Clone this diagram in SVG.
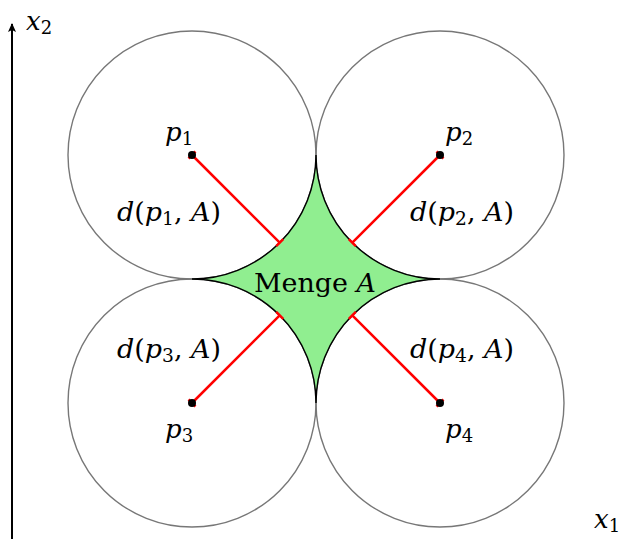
<svg xmlns="http://www.w3.org/2000/svg" width="621" height="539" viewBox="0 0 621 539">
<style>
.c{fill:none;stroke:#777;stroke-width:1.4}
text{font-family:'DejaVu Serif',serif;font-size:26px;fill:#000}
.i{font-style:italic}
.s{font-size:18px;font-style:normal}
.n{font-style:normal}
.r{stroke:#f00;stroke-width:2.5;fill:none}
</style>
<defs>
<marker id="ah" viewBox="0 0 10 10" refX="8" refY="5" markerWidth="5" markerHeight="5" orient="auto">
<path d="M0,1 L9,5 L0,9 L2,5 Z" fill="#000"/>
</marker>
</defs>
<rect width="621" height="539" fill="#fff"/>
<g id="axes">
<line x1="12" y1="539" x2="12" y2="24" stroke="#000" stroke-width="2" marker-end="url(#ah)"/>
<text class="i" x="26" y="30">x<tspan class="s" dy="4">2</tspan></text>
<text class="i" x="594" y="528">x<tspan class="s" dy="4">1</tspan></text>
</g>
<g id="circles">
<circle class="c" cx="192" cy="155" r="124"/>
<circle class="c" cx="440" cy="155" r="124"/>
<circle class="c" cx="192" cy="403" r="124"/>
<circle class="c" cx="440" cy="403" r="124"/>
</g>
<g id="setA">
<path d="M316,155 A124,124 0 0 0 440,279 A124,124 0 0 0 316,403 A124,124 0 0 0 192,279 A124,124 0 0 0 316,155 Z" fill="#90ee90" stroke="#000" stroke-width="1.4"/>
<text x="254" y="292" textLength="122" lengthAdjust="spacingAndGlyphs">Menge <tspan class="i">A</tspan></text>
</g>
<g id="connectors">
<path class="r" d="M192,155 L279.7,242.7 M188.5,158.5 L195.5,151.5 M276.2,246.2 L283.2,239.2"/>
<path class="r" d="M440,155 L352.3,242.7 M436.5,151.5 L443.5,158.5 M348.8,239.2 L355.8,246.2"/>
<path class="r" d="M192,403 L279.7,315.3 M188.5,399.5 L195.5,406.5 M276.2,311.8 L283.2,318.8"/>
<path class="r" d="M440,403 L352.3,315.3 M436.5,406.5 L443.5,399.5 M348.8,318.8 L355.8,311.8"/>
</g>
<g id="p1">
<circle cx="192" cy="155" r="4" fill="#000"/>
<text class="i" x="165" y="141">p<tspan class="s" dy="4">1</tspan></text>
<text class="i" x="117" y="221" textLength="104" lengthAdjust="spacingAndGlyphs">d<tspan class="n">(</tspan>p<tspan class="s" dy="4">1</tspan><tspan dy="-4" class="n">, </tspan>A<tspan class="n">)</tspan></text>
</g>
<g id="p2">
<circle cx="440" cy="155" r="4" fill="#000"/>
<text class="i" x="445" y="141">p<tspan class="s" dy="4">2</tspan></text>
<text class="i" x="410" y="221" textLength="104" lengthAdjust="spacingAndGlyphs">d<tspan class="n">(</tspan>p<tspan class="s" dy="4">2</tspan><tspan dy="-4" class="n">, </tspan>A<tspan class="n">)</tspan></text>
</g>
<g id="p3">
<circle cx="192" cy="403" r="4" fill="#000"/>
<text class="i" x="165" y="438">p<tspan class="s" dy="4">3</tspan></text>
<text class="i" x="117" y="358" textLength="104" lengthAdjust="spacingAndGlyphs">d<tspan class="n">(</tspan>p<tspan class="s" dy="4">3</tspan><tspan dy="-4" class="n">, </tspan>A<tspan class="n">)</tspan></text>
</g>
<g id="p4">
<circle cx="440" cy="403" r="4" fill="#000"/>
<text class="i" x="445" y="438">p<tspan class="s" dy="4">4</tspan></text>
<text class="i" x="410" y="358" textLength="104" lengthAdjust="spacingAndGlyphs">d<tspan class="n">(</tspan>p<tspan class="s" dy="4">4</tspan><tspan dy="-4" class="n">, </tspan>A<tspan class="n">)</tspan></text>
</g>
</svg>
